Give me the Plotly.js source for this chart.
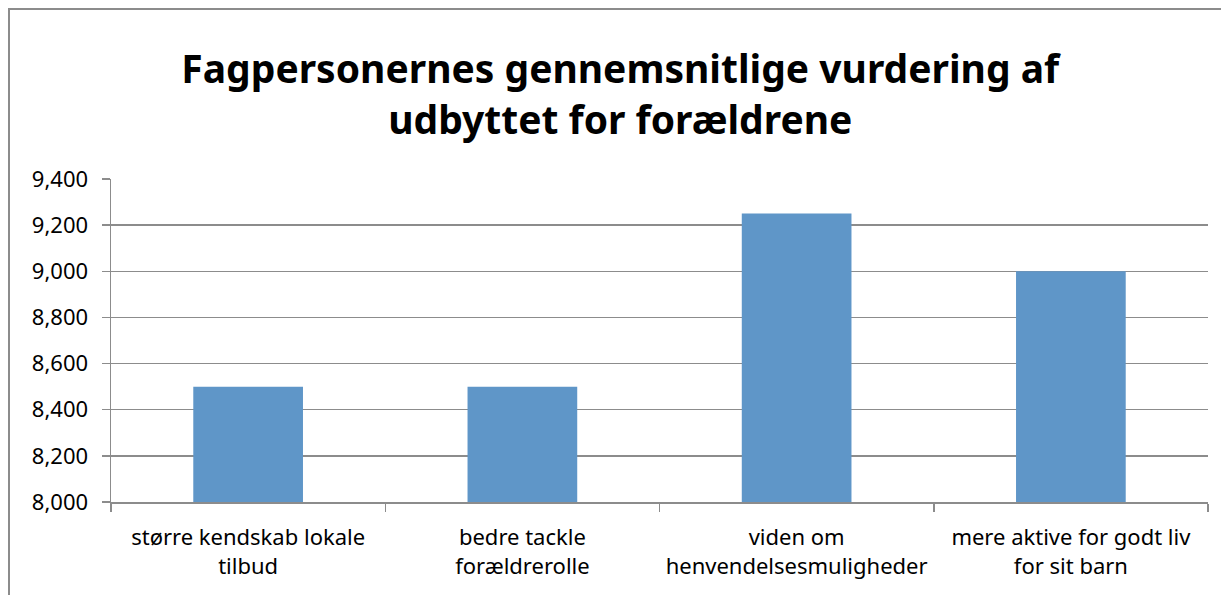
<!DOCTYPE html>
<html><head><meta charset="utf-8">
<script src="https://cdn.plot.ly/plotly-3.0.1.min.js"></script>
<style>
html,body{margin:0;padding:0;background:#fff;overflow:hidden;}
#wrap{position:relative;width:1221px;height:595px;}
#chart{position:absolute;left:0;top:0;width:1221px;height:595px;}
#frame{position:absolute;left:8px;top:8px;width:1300px;height:700px;border:2px solid #8c8c8c;box-sizing:border-box;pointer-events:none;}
</style></head>
<body><div id="wrap"><div id="chart"></div><div id="frame"></div></div>
<script>
const categories = ["større kendskab lokale<br>tilbud", "bedre tackle<br>forældrerolle", "viden om<br>henvendelsesmuligheder", "mere aktive for godt liv<br>for sit barn"];
const values = [8.5, 8.5, 9.25, 9.0];
const yTicks = [8.0, 8.2, 8.4, 8.6, 8.8, 9.0, 9.2, 9.4];
const chartTitle = "Fagpersonernes gennemsnitlige vurdering af<br>udbyttet for forældrene";

const fontFam = "Noto Sans, Open Sans, sans-serif";
Plotly.newPlot("chart", [{
  type: "bar", x: categories, y: values,
  marker: {color: "#5f96c8"}, hoverinfo: "none"
}], {
  width: 1221, height: 595,
  margin: {l: 111, r: 13, t: 179, b: 93},
  paper_bgcolor: "#fff", plot_bgcolor: "#fff",
  separators: ",.",
  bargap: 0.6,
  showlegend: false,
  title: {text: chartTitle, font: {family: fontFam, size: 39, color: "#000", weight: "bold"}, x: 0.508, xanchor: "center", y: 0.86, yanchor: "middle"},
  xaxis: {type: "category", tickson: "boundaries", ticks: "outside", ticklen: 8, tickcolor: "#8c8c8c", tickwidth: 1.5,
    showline: true, linecolor: "#8c8c8c", linewidth: 1.5, showgrid: false,
    tickangle: 0, automargin: false,
    ticklabelstandoff: 15,
    tickfont: {family: fontFam, size: 22, color: "#000"}},
  yaxis: {range: [8.0, 9.4], tickvals: yTicks, tickformat: ",.3f", ticks: "outside", ticklen: 8, tickcolor: "#8c8c8c", tickwidth: 1.5,
    showline: true, linecolor: "#8c8c8c", linewidth: 1.5, showgrid: true, gridcolor: "#8c8c8c", gridwidth: 1.5, zeroline: false,
    ticklabelstandoff: 9,
    tickfont: {family: fontFam, size: 22, color: "#000"}}
}, {staticPlot: true});
</script></body></html>
